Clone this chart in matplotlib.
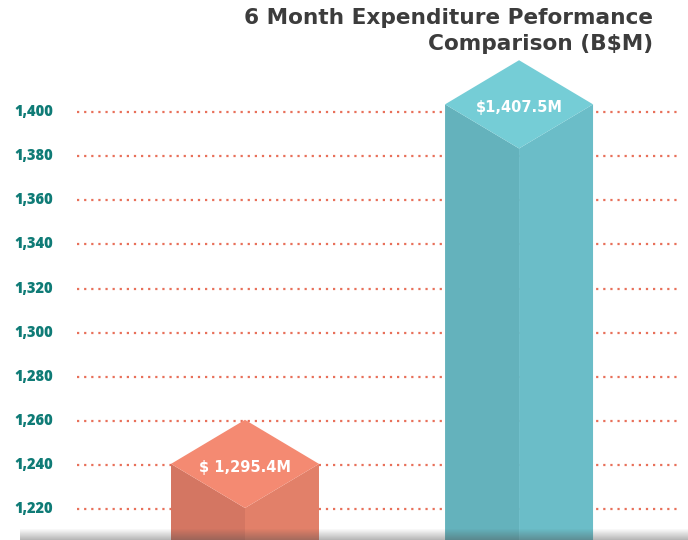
import numpy as np
import matplotlib.pyplot as plt
from matplotlib.patches import Polygon

# data
bar_labels = ['$ 1,295.4M', '$1,407.5M']
bar_heights = [1240.5, 1403.5]   # drawn height of the diamond's mid line
yticks = [1220, 1240, 1260, 1280, 1300, 1320, 1340, 1360, 1380, 1400]

top_cols = ['#f48a72', '#75cdd6']
left_cols = ['#d47662', '#64b2bc']
right_cols = ['#e28069', '#6bbdc8']

hw = 0.27    # half width of a bar
dd = 20.0    # half height of the diamond top

fig = plt.figure(figsize=(6.88, 5.4), dpi=100)
ax = fig.add_axes([77/688, 0, 601/688, 1])
ax.set_xlim(-0.613, 1.580)
ax.set_ylim(1206, 1450.8)

for y in yticks:
    ax.plot([-0.613, 1.58], [y, y], color='#e8705a', linestyle=(0, (1, 2.2)),
            linewidth=1.6, zorder=1)

bottom = 1190
for i, h in enumerate(bar_heights):
    x = i
    left = [(x - hw, bottom), (x - hw, h), (x, h - dd), (x, bottom)]
    right = [(x, bottom), (x, h - dd), (x + hw, h), (x + hw, bottom)]
    top = [(x - hw, h), (x, h + dd), (x + hw, h), (x, h - dd)]
    ax.add_patch(Polygon(left, closed=True, facecolor=left_cols[i], edgecolor='none', zorder=2))
    ax.add_patch(Polygon(right, closed=True, facecolor=right_cols[i], edgecolor='none', zorder=2))
    ax.add_patch(Polygon(top, closed=True, facecolor=top_cols[i], edgecolor='none', zorder=3))
    ax.text(x, h - 1.5, bar_labels[i], ha='center', va='center', color='white',
            fontsize=10.5, fontweight='bold', family='DejaVu Sans', zorder=4)

for y in yticks:
    ax.text(-0.7, y, f'{y:,}', ha='right', va='center', color='#0f7b76',
            fontsize=10.5, fontweight='heavy', family='Open Sans',
            transform=ax.transData, clip_on=False)

ax.axis('off')

fig.text(653/688, 1 - 18/540, '6 Month Expenditure Peformance', ha='right', va='center',
         fontsize=15.6, fontweight='bold', color='#3c3c3c', family='DejaVu Sans')
fig.text(653/688, 1 - 44/540, 'Comparison (B$M)', ha='right', va='center',
         fontsize=15.6, fontweight='bold', color='#3c3c3c', family='DejaVu Sans')

# grey shadow strip along the bottom edge
sh = fig.add_axes([20/688, 0, 668/688, 12/540])
grad = np.zeros((12, 1, 4))
grad[:, 0, :3] = 0.3
grad[:, 0, 3] = np.linspace(0.0, 0.4, 12)
sh.imshow(grad, aspect='auto', extent=[0, 1, 0, 1], origin='upper')
sh.axis('off')

fig.savefig('out.png', dpi=100)
